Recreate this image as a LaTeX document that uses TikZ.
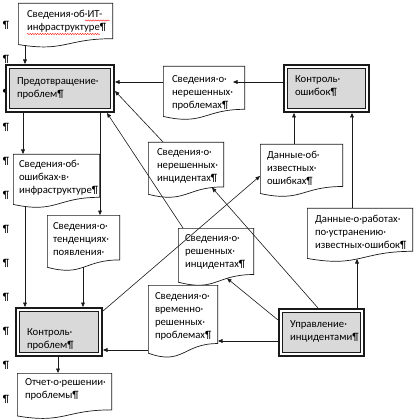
\documentclass[tikz,border=0pt]{standalone}
\usepackage{fontspec}
\setmainfont{Carlito}
\usetikzlibrary{arrows.meta,calc,decorations.pathmorphing}
\definecolor{procgray}{HTML}{D9D9D9}
\definecolor{linecol}{HTML}{1A1A1A}
\tikzset{
  every node/.style={outer sep=0pt, font=\fontsize{10.7pt}{13pt}\selectfont},
  docpath/.style={path picture={
    \draw[line width=0.7pt, draw=linecol, fill=white]
      let \p1=(path picture bounding box.south west), \p2=(path picture bounding box.north east),
          \n1={\x2-\x1}, \n2={\y2-\y1} in
      (\x1+0.35pt,\y2-0.35pt) -- (\x2-0.35pt,\y2-0.35pt) -- (\x2-0.35pt,{\y2-0.802*\n2})
      .. controls ({\x1+0.5*\n1},{\y2-0.802*\n2}) and ({\x1+0.5*\n1},{\y2-1.107*\n2}) .. (\x1+0.35pt,{\y2-0.934*\n2}) -- cycle;
  }},
  doc/.code n args={4}{%
    \pgfmathsetmacro\dtw{#1-2*#3}%
    \pgfmathsetmacro\dtd{#2-#4}%
    \pgfkeysalso{anchor=north west, inner ysep=0pt, inner xsep=#3pt, text width=\dtw pt,
      text height=#4pt, text depth=\dtd pt, align=left, docpath}},
  procpic/.style={path picture={
    \draw[line width=0.8pt, draw=linecol, fill=procgray]
      ([shift={(3.3pt,-3.3pt)}]path picture bounding box.north west) rectangle
      ([shift={(-3.3pt,3.3pt)}]path picture bounding box.south east);}},
  proc/.code n args={4}{%
    \pgfmathsetmacro\dtw{#1-2*#3}%
    \pgfmathsetmacro\dtd{#2-#4}%
    \pgfkeysalso{anchor=north west, draw=linecol, line width=2.2pt, fill=white,
      inner ysep=0pt, inner xsep=#3pt, text width=\dtw pt,
      text height=#4pt, text depth=\dtd pt, align=left, procpic}},
  arr/.style={draw=linecol, line width=0.6pt, -{Triangle[length=4.5pt,width=3.8pt]}},
  pil/.style={inner sep=0pt},
  spell/.style={draw=red, line width=0.4pt, decorate,
    decoration={snake, amplitude=0.6pt, segment length=2.5pt}}
}
\begin{document}
\begin{tikzpicture}[x=1pt, y=-1pt]
\useasboundingbox (0,0) rectangle (417,419);
% paragraph marks in the margin
\foreach \k in {0,...,11} {
  \node[pil] (p\k) at (6,{25+34*\k}) {¶};
}
% process boxes
\node[proc={108}{47}{11}{19.5}] (PP) at (6,65) {Предотвращение·\\проблем¶};
\node[proc={85}{47}{11}{17.5}] (KO) at (284,65) {Контроль·\\ошибок¶};
\node[proc={86}{48}{11}{27.5}] (KP) at (16,308) {Контроль·\\проблем¶};
\node[proc={85}{47}{11}{18.5}] (UI) at (279,309) {Управление·\\инцидентами¶};
% documents
\node[doc={95}{44.5}{9}{14.5}] (A) at (18,3) {Сведения·об·ИТ-\\инфраструктуре¶};
\node[doc={82}{54}{9}{16.5}] (B) at (163,66) {Сведения·о·\\нерешенных·\\проблемах¶};
\node[doc={87}{54}{6}{13.5}] (C) at (13,154) {Сведения·об·\\ошибках·в·\\инфраструктуре¶};
\node[doc={73}{56}{6}{14.5}] (D) at (47,215) {Сведения·о·\\тенденциях·\\появления·};
\node[doc={76}{56}{9}{13.5}] (E) at (148,142) {Сведения·о·\\нерешенных·\\инцидентах¶};
\node[doc={83}{53}{7}{14.5}] (F) at (260,144) {Данные·об·\\известных·\\ошибках¶};
\node[doc={106}{54}{8}{14.5}] (G) at (307,208) {Данные·о·работах·\\по·устранению·\\известных·ошибок¶};
\node[doc={76}{58}{7}{13.5}] (H) at (178,228) {Сведения·о·\\решенных·\\инцидентах¶};
\node[doc={70}{73}{7}{14.5}] (I) at (148,285) {Сведения·о·\\временно·\\решенных·\\проблемах¶};
\node[doc={95}{46}{8}{12.5}] (J) at (17,373) {Отчет·о·решении·\\проблемы¶};
% spell-check underlines
\draw[spell] ([shift={(67,17.5)}]A.north west) -- ([shift={(92,17.5)}]A.north west);
\draw[spell] ([shift={(9,31)}]A.north west) -- ([shift={(82,31)}]A.north west);
% connectors
\draw[arr] ([shift={(7,42.5)}]A.north west) -- ([shift={(19,-1)}]PP.north west);
\draw[arr] ([shift={(17,1)}]PP.south west) -- ([shift={(10,0)}]C.north west);
\draw[arr] ([shift={(94,1)}]PP.south west) -- ([shift={(53,0)}]D.north west);
\draw[arr] ([shift={(12,52.5)}]C.north west) -- ([shift={(9,-1)}]KP.north west);
\draw[arr] ([shift={(36,52.4)}]D.north west) -- ([shift={(67,-1)}]KP.north west);
\draw[arr] ([shift={(42,1)}]KP.south west) -- ([shift={(41,0)}]J.north west);
\draw[arr] ([shift={(0,65)}]I.north west) -- ([shift={(1,42)}]KP.north east);
\draw[arr] ([shift={(1,3)}]KP.north east) -- ([shift={(0,32)}]F.north west);
\draw[arr] ([shift={(5,0)}]H.north west) -- ([shift={(-7,1)}]PP.south east);
\draw[arr] ([shift={(15,0)}]E.north west) -- ([shift={(1,26)}]PP.north east);
\draw[arr] ([shift={(0,16)}]B.north west) -- ([shift={(1,17)}]PP.north east);
\draw[arr] ([shift={(-1,17)}]KO.north west) -- ([shift={(-12,16)}]B.north east);
\draw[arr] ([shift={(34,0)}]F.north west) -- ([shift={(10,1)}]KO.south west);
\draw[arr] ([shift={(45,0)}]G.north west) -- ([shift={(68,1)}]KO.south west);
\draw[arr] ([shift={(78,-1)}]UI.north west) -- ([shift={(50,51)}]G.north west);
\draw[arr] ([shift={(39,-1)}]UI.north west) -- ([shift={(64,45.6)}]E.north west);
\draw[arr] ([shift={(-1,11)}]UI.north west) -- ([shift={(49,50.3)}]H.north west);
\draw[arr] ([shift={(-1,32)}]UI.north west) -- ([shift={(0,56)}]I.north east);
\end{tikzpicture}
\end{document}
